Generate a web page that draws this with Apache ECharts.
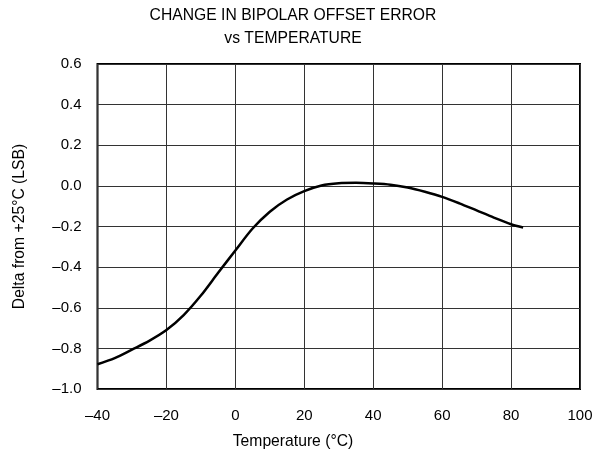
<!DOCTYPE html>
<html>
<head>
<meta charset="utf-8">
<script src="https://cdn.jsdelivr.net/npm/echarts@6/dist/echarts.min.js"></script>
<style>
  html, body { margin: 0; padding: 0; background: #fff; }
  #chart { width: 606px; height: 460px; }
</style>
</head>
<body>
<div id="chart"></div>
<script>
// temperature (°C) and change in bipolar offset error (LSB)
const temps = [-40, -35, -30, -25, -20, -15, -10, -5, 0, 5, 10, 15, 20, 25, 30, 35, 40, 45, 50, 55, 60, 65, 70, 75, 80, 83.5];
const deltas = [-0.878, -0.848, -0.806, -0.763, -0.71, -0.636, -0.54, -0.428, -0.318, -0.21, -0.127, -0.067, -0.026, 0.002, 0.013, 0.015, 0.012, 0.006, -0.008, -0.029, -0.054, -0.086, -0.121, -0.156, -0.189, -0.205];

const titleLines = ['CHANGE IN BIPOLAR OFFSET ERROR', 'vs TEMPERATURE'];
const xName = 'Temperature (°C)';
const yName = 'Delta from +25°C (LSB)';

const FONT = 'Liberation Sans, Arial, sans-serif';
const dash = (s) => s.replace('-', '\u2013');

const chart = echarts.init(document.getElementById('chart'), null, { renderer: 'canvas' });

chart.setOption({
  animation: false,
  backgroundColor: '#fff',
  title: [
    {
      text: titleLines.join('\n'),
      left: 293,
      top: 4,
      padding: 0,
      textAlign: 'center',
      textStyle: { fontFamily: FONT, fontSize: 15.7, fontWeight: 'normal', color: '#000', lineHeight: 23 },
    },
    {
      text: xName,
      left: 293,
      top: 434,
      padding: 0,
      textAlign: 'center',
      textStyle: { fontFamily: FONT, fontSize: 15.7, fontWeight: 'normal', color: '#000' },
    },
  ],
  grid: {
    left: 97.5,
    right: 26,
    top: 64,
    bottom: 71,
    show: true,
    borderColor: '#000',
    borderWidth: 2,
  },
  xAxis: {
    type: 'value',
    min: -40,
    max: 100,
    interval: 20,
    axisLine: { show: false },
    axisTick: { show: false },
    splitLine: { lineStyle: { color: '#333', width: 1 } },
    axisLabel: {
      margin: 19,
      fontFamily: FONT,
      fontSize: 15,
      color: '#000',
      formatter: (v) => dash(String(v)),
    },
  },
  yAxis: {
    type: 'value',
    min: -1.0,
    max: 0.6,
    interval: 0.2,
    name: yName,
    nameLocation: 'middle',
    nameGap: 70,
    nameTextStyle: { fontFamily: FONT, fontSize: 15.7, color: '#000' },
    axisLine: { show: false },
    axisTick: { show: false },
    splitLine: { lineStyle: { color: '#333', width: 1 } },
    axisLabel: {
      margin: 16,
      fontFamily: FONT,
      fontSize: 15,
      color: '#000',
      formatter: (v) => dash(v.toFixed(1)),
    },
  },
  series: [
    {
      type: 'line',
      data: temps.map((t, i) => [t, deltas[i]]),
      smooth: 0.3,
      showSymbol: false,
      lineStyle: { color: '#000', width: 2.5 },
    },
  ],
});
</script>
</body>
</html>
